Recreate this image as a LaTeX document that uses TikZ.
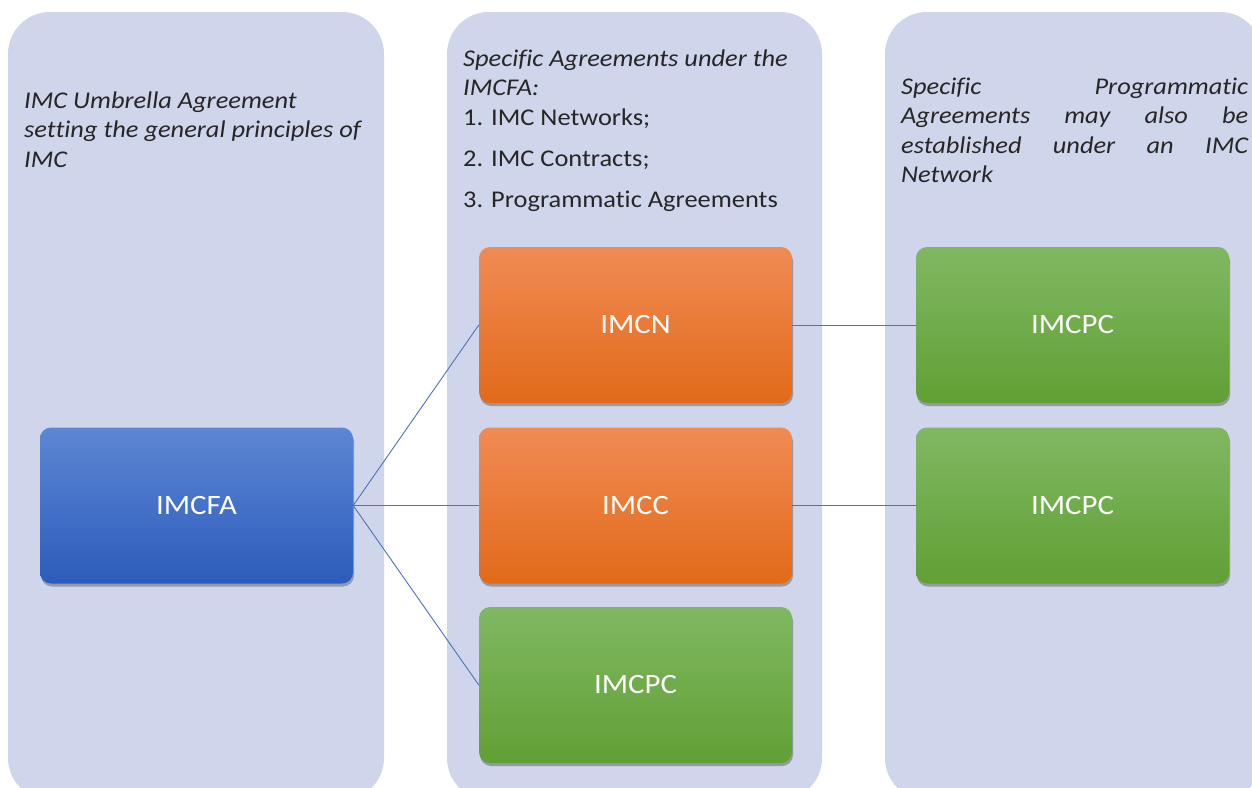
\documentclass[tikz,border=0pt]{standalone}
\usepackage{fontspec}
\setmainfont{Carlito}[FakeStretch=1.1, Ligatures=NoCommon]
\usetikzlibrary{shadows}
\definecolor{panel}{HTML}{CFD5EA}
\definecolor{bluetop}{HTML}{5D87D4}
\definecolor{bluemid}{HTML}{3F6CC9}
\definecolor{bluebot}{HTML}{2C5CBB}
\definecolor{ortop}{HTML}{F08B55}
\definecolor{ormid}{HTML}{F47B2B}
\definecolor{orbot}{HTML}{E26A19}
\definecolor{grtop}{HTML}{80B862}
\definecolor{grmid}{HTML}{6EB043}
\definecolor{grbot}{HTML}{60A034}
\definecolor{conn}{HTML}{4F72BC}
\tikzset{
  panelbox/.style={fill=panel, rounded corners=42pt},
  box/.style={rounded corners=11pt, minimum width=313pt, minimum height=156pt,
    text=white, font=\fontsize{28}{34}\selectfont, inner sep=0pt,
    drop shadow={shadow xshift=1pt, shadow yshift=-3pt, fill=black, opacity=0.28}},
  bluebox/.style={box, top color=bluetop, middle color=bluemid, bottom color=bluebot},
  orbox/.style={box, top color=ortop, middle color=ormid, bottom color=orbot},
  grbox/.style={box, top color=grtop, middle color=grmid, bottom color=grbot},
  link/.style={draw=conn, line width=0.9pt},
  paneltext/.style={anchor=north west, inner sep=0pt, align=left,
    font=\fontsize{24}{29.5}\selectfont, text=black!85},
  italictext/.style={paneltext, font=\fontsize{24}{29.5}\selectfont\itshape}
}
\begin{document}
\begin{tikzpicture}[x=1pt,y=-1pt]
\useasboundingbox (0,0) rectangle (1252,787);
\clip (0,0) rectangle (1252,787);
\fill[white] (0,0) rectangle (1252,787);
% panels
\fill[panelbox] (8,12) rectangle (384,800);
\fill[panelbox] (447,12) rectangle (822,800);
\fill[panelbox] (885,12) rectangle (1262,800);
% panel texts
\node[italictext] (t1) at (24,90) {\rule{0pt}{18pt}IMC Umbrella Agreement\\ setting the general principles of\\ IMC};
\node[paneltext] (t2) at (463,48) {\rule{0pt}{18pt}{\itshape Specific Agreements under the}\\ {\itshape IMCFA:}\\ 1. IMC Networks;\\[11.5pt] 2. IMC Contracts;\\[11.5pt] 3. Programmatic Agreements};
\node[italictext] (t3) at (901,76) {\rule{0pt}{18pt}\makebox[347pt][s]{Specific Programmatic}\\ \makebox[347pt][s]{Agreements may also be}\\ \makebox[347pt][s]{established under an IMC}\\ Network};
% boxes
\node[bluebox] (fa) at (196.5,505.5) {IMCFA};
\node[orbox] (n) at (635.5,325) {IMCN};
\node[orbox] (c) at (635.5,505.5) {IMCC};
\node[grbox] (pc) at (635.5,685) {IMCPC};
\node[grbox] (pc1) at (1072.5,325) {IMCPC};
\node[grbox] (pc2) at (1072.5,505.5) {IMCPC};
% connectors
\draw[link] (fa.east) -- (n.west);
\draw[link] (fa.east) -- (c.west);
\draw[link] (fa.east) -- (pc.west);
\draw[link] (n.east) -- (pc1.west);
\draw[link] (c.east) -- (pc2.west);
\end{tikzpicture}
\end{document}
